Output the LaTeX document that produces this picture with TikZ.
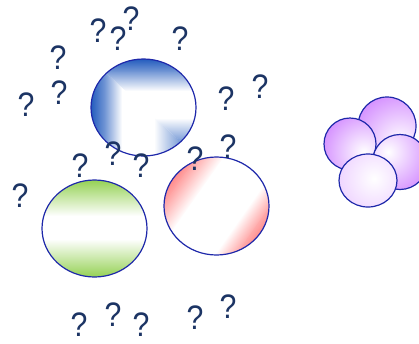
\documentclass[tikz,border=0pt]{standalone}
\usepackage{fontspec}
\setmainfont{Liberation Sans}
\usepackage{tikz}
\usetikzlibrary{shapes.geometric}

\definecolor{qnavy}{RGB}{28,52,100}
\definecolor{rimblue}{RGB}{30,40,170}
\definecolor{ballblue}{RGB}{30,88,188}
\definecolor{ballgreen}{RGB}{146,208,80}
\definecolor{ballred}{RGB}{255,110,110}
\definecolor{lilac}{RGB}{208,132,255}

\begin{document}
\begin{tikzpicture}[x=1pt, y=-1pt,
    ball/.style={ellipse, draw=rimblue, line width=1.2pt, inner sep=0pt},
    bubble/.style={ball, minimum width=#1, minimum height=#1},
    qmark/.style={text=qnavy, inner sep=0pt, font=\fontsize{34}{34}\selectfont}]
  \useasboundingbox (0,0) rectangle (419,343);

  % blue ball: corner gradient, split along the diagonal
  \begin{scope}
    \clip (143.5,107.5) ellipse (52.5 and 48.5);
    \begin{scope}
      \clip (91,59) -- (91,156) -- (196,156) -- cycle;
      \shade[left color=ballblue, right color=ballblue!60] (90,58) rectangle (106,157);
      \shade[left color=ballblue!60, right color=white] (105.5,58) rectangle (122,157);
      \shade[left color=white, right color=ballblue!55] (154,58) rectangle (178.5,157);
      \shade[left color=ballblue!55, right color=ballblue] (178,58) rectangle (197,157);
    \end{scope}
    \begin{scope}
      \clip (91,59) -- (196,59) -- (196,156) -- cycle;
      \shade[top color=ballblue, bottom color=ballblue!60] (90,58) rectangle (197,72.5);
      \shade[top color=ballblue!60, bottom color=white] (90,72) rectangle (197,91);
      \shade[top color=white, bottom color=ballblue!55] (90,118) rectangle (197,139.5);
      \shade[top color=ballblue!55, bottom color=ballblue] (90,139) rectangle (197,157);
    \end{scope}
  \end{scope}

  % green ball
  \begin{scope}
    \clip (94.5,228.5) ellipse (52.5 and 48.5);
    \shade[top color=ballgreen, bottom color=white] (41,179) rectangle (148,216);
    \shade[top color=white, bottom color=ballgreen] (41,239) rectangle (148,278);
  \end{scope}

  % red ball: tilted band
  \begin{scope}
    \clip (216.5,206) ellipse (52.5 and 49);
    \begin{scope}[transform canvas={rotate around={-35:(216.5,206)}}]
      \fill[ballred] (140,120) rectangle (157,300);
      \shade[left color=ballred, right color=ballred!60] (156.5,120) rectangle (173,300);
      \shade[left color=ballred!60, right color=white] (172.5,120) rectangle (194.5,300);
      \shade[left color=white, right color=ballred!60] (242.5,120) rectangle (261,300);
      \shade[left color=ballred!60, right color=ballred] (260.5,120) rectangle (276.5,300);
      \fill[ballred] (276,120) rectangle (295,300);
    \end{scope}
  \end{scope}

  \node[ball, minimum width=105pt, minimum height=97pt] (blueball) at (143.5,107.5) {};
  \node[ball, minimum width=105pt, minimum height=97pt] (greenball) at (94.5,228.5) {};
  \node[ball, minimum width=105pt, minimum height=98pt] (redball) at (216.5,206) {};

  % cluster
  \node[bubble=58pt, path picture={
      \shade[inner color=white, outer color=lilac]
        ([shift={(13,16)}]path picture bounding box.center) circle (56pt);
    }] (lilacA) at (387,126) {};
  \node[bubble=52pt, path picture={
      \shade[inner color=white, outer color=lilac]
        ([shift={(14,8)}]path picture bounding box.center) circle (48pt);
    }] (lilacB) at (350,144) {};
  \node[bubble=55pt, path picture={
      \shade[inner color=white, outer color=lilac]
        ([shift={(-12,-10)}]path picture bounding box.center) circle (50pt);
    }] (lilacC) at (400,162) {};
  \node[ball, minimum width=58pt, minimum height=53pt, path picture={
      \shade[inner color=white, outer color=lilac!40]
        ([shift={(6,-2)}]path picture bounding box.center) circle (42pt);
    }] (lilacD) at (368,180.5) {};

  % question marks
  \foreach \x/\y [count=\i] in {98/31, 118/39, 131/19, 180/39, 58/58, 59/93, 26/105,
      226/99, 260/87, 80/166, 113/154, 141/166, 195/159, 228/147, 20/196,
      79/325, 113/315, 141/325, 195/318, 228/307}
    \node[qmark] (q\i) at (\x,\y) {\scalebox{0.89}[1]{?}};
\end{tikzpicture}
\end{document}
